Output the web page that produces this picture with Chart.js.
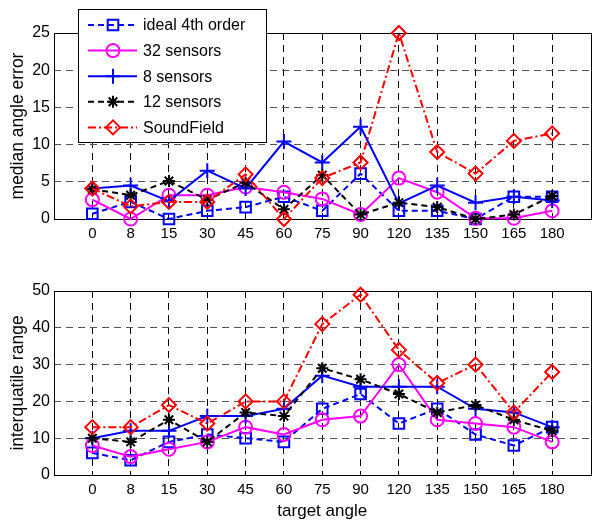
<!DOCTYPE html>
<html>
<head>
<meta charset="utf-8">
<script src="https://cdn.jsdelivr.net/npm/chart.js@4.4.1/dist/chart.umd.min.js"></script>
<style>
    html, body { margin: 0; padding: 0; background: #fff; overflow: hidden; }
    #wrap { position: relative; width: 592px; height: 522px; overflow: hidden; }
    canvas { position: absolute; left: 0; }
    #top-chart { top: 0; }
    #bottom-chart { top: 250px; }
</style>
</head>
<body>
<div id="wrap">
    <canvas id="top-chart" width="600" height="250"></canvas>
    <canvas id="bottom-chart" width="600" height="272"></canvas>
</div>
<script>
// x categories (target angle)
const angles = ['0', '8', '15', '30', '45', '60', '75', '90', '120', '135', '150', '165', '180'];
const seriesNames = ['ideal 4th order', '32 sensors', '8 sensors', '12 sensors', 'SoundField'];

// median angle error
const medianIdeal = [0.7, 2.3, 0, 1.1, 1.6, 3, 1.1, 6.1, 1.1, 1.1, 0, 3, 3];
const median32 = [2.6, 0, 3.2, 3.2, 4.3, 3.6, 2.7, 0.6, 5.5, 3.6, 0.1, 0.1, 1.1];
const median8 = [4.1, 4.5, 2.4, 6.5, 4.1, 10.4, 7.6, 12.4, 2.1, 4.5, 2.2, 3, 2.5];
const median12 = [4, 3.2, 5.1, 2.6, 4.9, 1.3, 5.9, 0.6, 2.2, 1.6, 0, 0.6, 3.1];
const medianSF = [4.1, 1.7, 2.3, 2.3, 6, 0, 5.5, 7.6, 25, 9, 6.1, 10.5, 11.5];
const medianTicks = [0, 5, 10, 15, 20, 25];

// interquartile range
const iqrIdeal = [6, 4, 9, 11, 10, 9, 18, 22, 14, 18, 11, 8, 13];
const iqr32 = [8, 5, 7, 9, 13, 11, 15, 16, 30, 15, 14, 13, 9];
const iqr8 = [10, 12, 12, 16, 16, 18, 27, 24, 24, 24, 18, 17, 13];
const iqr12 = [10, 9, 15, 9, 17, 16, 29, 26, 22, 17, 19, 15, 12];
const iqrSF = [13, 13, 19, 14, 20, 20, 41, 49, 34, 25, 30, 17, 28];
const iqrTicks = [0, 10, 20, 30, 40, 50];

const FONT = "'Liberation Sans', Arial, sans-serif";
Chart.defaults.font.family = FONT;
Chart.defaults.color = '#000';

const styles = [
    { color: '#0000ff', dash: [6, 4], point: 'rect', radius: 7.5 },
    { color: '#ff00ff', dash: [], point: 'circle', radius: 6.5 },
    { color: '#0000ff', dash: [], point: 'cross', radius: 7.5 },
    { color: '#000000', dash: [6, 4], point: 'star', radius: 6 },
    { color: '#ff0000', dash: [8, 3, 2, 3], point: 'rectRot', radius: 7 }
];

function makeDatasets(seriesList) {
    return seriesList.map((values, i) => ({
        label: seriesNames[i],
        data: values.map((v, k) => ({ x: k, y: v })),
        borderColor: styles[i].color,
        borderWidth: 2,
        borderDash: styles[i].dash,
        pointStyle: styles[i].point,
        pointRadius: styles[i].radius,
        pointBorderWidth: 2,
        pointBorderColor: styles[i].color,
        pointBackgroundColor: 'rgba(0,0,0,0)',
        tension: 0,
        clip: false,
        order: seriesList.length - i
    }));
}

// axes box (MATLAB style frame)
const framePlugin = {
    id: 'frame',
    beforeDatasetsDraw(chart) {
        const { ctx, chartArea: a } = chart;
        ctx.save();
        ctx.strokeStyle = '#000';
        ctx.lineWidth = 1;
        ctx.strokeRect(Math.round(a.left) + 0.5, Math.round(a.top) + 0.5,
            Math.round(a.right - a.left), Math.round(a.bottom - a.top));
        ctx.restore();
    }
};

// boxed legend in the top-left corner
const boxLegendPlugin = {
    id: 'boxLegend',
    afterDraw(chart) {
        const ctx = chart.ctx;
        const left = 78, top = 9, width = 188, height = 133;
        ctx.save();
        ctx.fillStyle = '#fff';
        ctx.fillRect(left, top, width, height);
        ctx.strokeStyle = '#000';
        ctx.lineWidth = 1;
        ctx.setLineDash([]);
        ctx.strokeRect(left + 0.5, top + 0.5, width, height);

        chart.data.datasets.forEach((ds, i) => {
            const y = 25 + i * 25.6;
            ctx.save();
            ctx.strokeStyle = ds.borderColor;
            ctx.lineWidth = 2;
            ctx.setLineDash(ds.borderDash);
            ctx.beginPath();
            ctx.moveTo(88, y);
            ctx.lineTo(137, y);
            ctx.stroke();
            ctx.setLineDash([]);
            ctx.fillStyle = 'rgba(0,0,0,0)';
            Chart.helpers.drawPoint(ctx, {
                pointStyle: ds.pointStyle,
                radius: ds.pointRadius,
                borderWidth: 2,
                rotation: 0
            }, 113, y);
            ctx.restore();

            ctx.fillStyle = '#000';
            ctx.font = '16px ' + FONT;
            ctx.textBaseline = 'middle';
            ctx.textAlign = 'left';
            ctx.fillText(ds.label, 143, y + 1);
        });
        ctx.restore();
    }
};

function makeChart(canvasId, seriesList, yTicks, yTitle, opts) {
    const ctx = document.getElementById(canvasId).getContext('2d');
    return new Chart(ctx, {
        type: 'line',
        data: { datasets: makeDatasets(seriesList) },
        options: {
            responsive: false,
            animation: false,
            events: [],
            layout: { padding: { top: opts.padTop, right: 4, left: 0, bottom: 0 } },
            plugins: { legend: { display: false }, tooltip: { enabled: false } },
            scales: {
                x: {
                    type: 'linear',
                    min: -1,
                    max: angles.length,
                    afterBuildTicks: scale => {
                        scale.ticks = angles.map((a, i) => ({ value: i }));
                    },
                    afterFit: scale => { scale.height = opts.xHeight; },
                    ticks: {
                        callback: v => angles[v],
                        font: { size: 15 },
                        padding: 6,
                        maxRotation: 0,
                        autoSkip: false
                    },
                    grid: { color: '#000', lineWidth: 1, drawTicks: false },
                    border: { display: false, dash: [7, 5] },
                    title: {
                        display: !!opts.xTitle,
                        text: opts.xTitle || '',
                        font: { size: 17 },
                        padding: { top: 0, bottom: 0 }
                    }
                },
                y: {
                    min: yTicks[0],
                    max: yTicks[yTicks.length - 1],
                    afterBuildTicks: scale => {
                        scale.ticks = yTicks.map(v => ({ value: v }));
                    },
                    afterFit: scale => { scale.width = 54; },
                    ticks: { font: { size: 16 }, padding: 4 },
                    grid: { color: '#555', lineWidth: 1, drawTicks: false },
                    border: { display: false, dash: [7, 5] },
                    title: {
                        display: true,
                        text: yTitle,
                        font: { size: 17.5 },
                        padding: { top: 8, bottom: 0 }
                    }
                }
            }
        },
        plugins: opts.legend ? [framePlugin, boxLegendPlugin] : [framePlugin]
    });
}

makeChart('top-chart',
    [medianIdeal, median32, median8, median12, medianSF],
    medianTicks, 'median angle error',
    { padTop: 33, xHeight: 31, legend: true });

makeChart('bottom-chart',
    [iqrIdeal, iqr32, iqr8, iqr12, iqrSF],
    iqrTicks, 'interquatile range',
    { padTop: 41, xHeight: 47, xTitle: 'target angle', legend: false });
</script>
</body>
</html>
